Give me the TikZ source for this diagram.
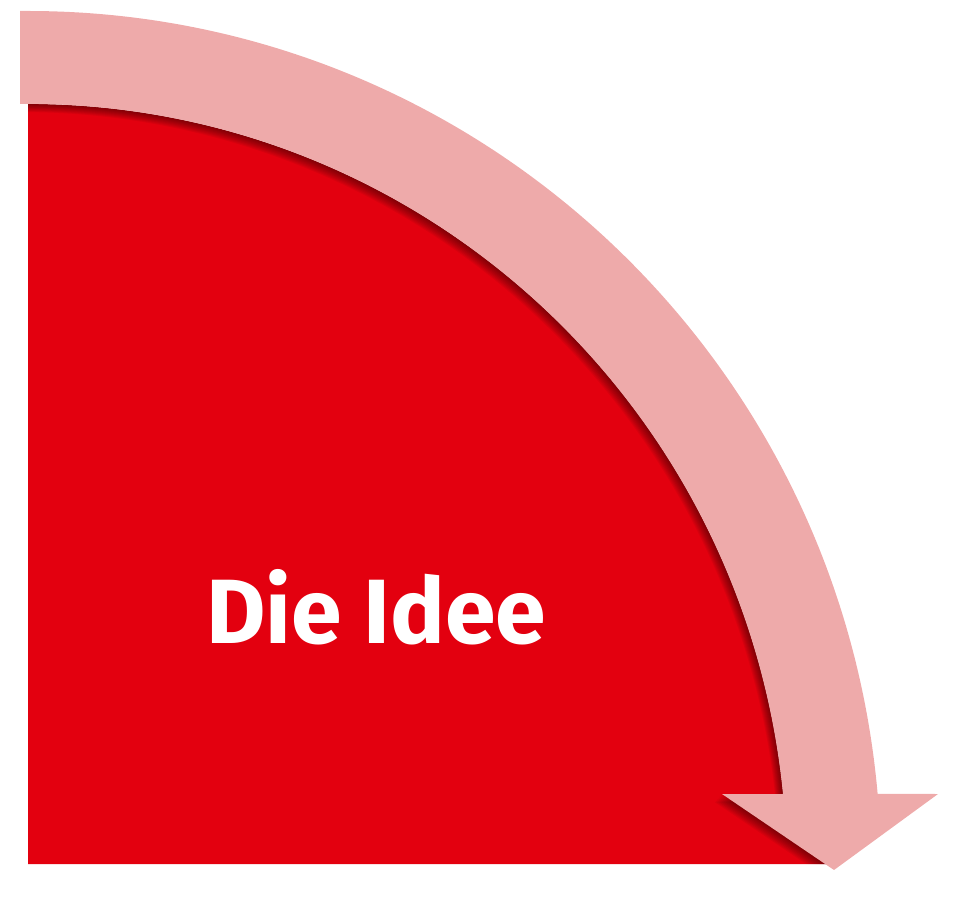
\documentclass[tikz,border=0pt]{standalone}
\usepackage{fontspec}
\setmainfont{Fira Sans}
\usetikzlibrary{positioning}
\definecolor{ideared}{HTML}{E3000F}
\definecolor{idearose}{HTML}{EEAAAA}
\tikzset{
  redshape/.style={insert path={(28,36) -- (28,796)
      arc[start angle=90, end angle=5.69, x radius=759, y radius=766]
      -- (830,36) -- cycle}},
  arrowshape/.style={insert path={(20,889) -- (28,889)
      arc[start angle=90, end angle=5.08, x radius=853, y radius=859]
      -- (938,106) -- (834,30) -- (722,106) -- (783,106)
      arc[start angle=5.69, end angle=90, x radius=759, y radius=766]
      -- (20,796) -- cycle}},
  label/.style={text=white, font=\bfseries\fontsize{52}{52}\selectfont}
}

\begin{document}
\begin{tikzpicture}[x=0.02cm, y=0.02cm]
\useasboundingbox (0,0) rectangle (960,900);

% Red quarter
\fill[ideared, redshape];

% Shadow of the arrow on the red
\begin{scope}
  \clip[redshape];
  \foreach \s in {1,...,9}
    \fill[black, opacity=0.055, shift={({-0.8*\s},{-0.9*\s})}, arrowshape];
\end{scope}

% Arrow
\fill[idearose, arrowshape];

% Text
\node[label, anchor=base] (idea) at (376,257) {Die Idee};
\end{tikzpicture}
\end{document}
